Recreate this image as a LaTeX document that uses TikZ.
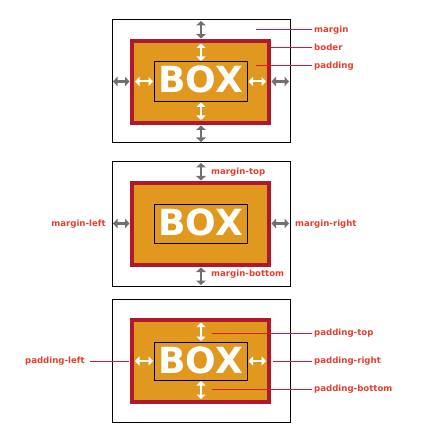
\documentclass[tikz,border=0pt]{standalone}
\usepackage{fontspec}
\newfontfamily\dejavu{DejaVu Sans}
\usetikzlibrary{arrows.meta}
\definecolor{boxred}{HTML}{AE1A2C}
\definecolor{boxorange}{HTML}{E1981F}
\definecolor{arrgrey}{HTML}{707070}
\definecolor{lblred}{HTML}{E4402E}
\definecolor{lnred}{HTML}{E0162E}
\tikzset{
  outerbox/.style={draw=black, line width=1pt},
  borderbox/.style={draw=boxred, fill=boxorange, line width=4pt},
  innerbox/.style={draw=black, line width=1pt},
  boxtext/.style={text=white, font=\dejavu\bfseries\fontsize{36}{36}\selectfont, inner sep=0pt, text height=26pt, text depth=0pt},
  greyarr/.style={draw=arrgrey, line width=2.6pt, {Triangle[length=4.5pt,width=9.5pt]}-{Triangle[length=4.5pt,width=9.5pt]}},
  whitearr/.style={draw=white, line width=2pt, {Triangle[length=4.5pt,width=9pt]}-{Triangle[length=4.5pt,width=9pt]}},
  lbl/.style={text=lblred, font=\dejavu\bfseries\fontsize{8.6}{10}\selectfont, inner sep=0pt, text height=4.8pt, text depth=0pt},
  lead/.style={draw=lnred, line width=1pt},
}
\begin{document}
\begin{tikzpicture}[x=1pt,y=-1pt]
\useasboundingbox (0,0) rectangle (426,438);
% ---------- Panel 1 ----------
\begin{scope}[shift={(0,20)}]
  \draw[outerbox] (112,0) rectangle (290,123);
  \draw[borderbox] (132,21) rectangle (269,103);
  \draw[innerbox] (154,42) rectangle (247.5,81.5);
  \node[boxtext] (box1) at (200.5,60) {BOX};
  \coordinate (a1t1) at (201,1);   \coordinate (a1t2) at (201,18.5);
  \coordinate (a1b1) at (201,105.5); \coordinate (a1b2) at (201,122);
  \coordinate (a1l1) at (113,61.5); \coordinate (a1l2) at (129.5,61.5);
  \coordinate (a1r1) at (271.5,61.5); \coordinate (a1r2) at (289,61.5);
  \draw[greyarr] (a1t1) -- (a1t2);
  \draw[greyarr] (a1b1) -- (a1b2);
  \draw[greyarr] (a1l1) -- (a1l2);
  \draw[greyarr] (a1r1) -- (a1r2);
  \coordinate (w1t1) at (201,23.5); \coordinate (w1t2) at (201,41);
  \coordinate (w1b1) at (201,82.5); \coordinate (w1b2) at (201,100);
  \coordinate (w1l1) at (135,61.5); \coordinate (w1l2) at (153,61.5);
  \coordinate (w1r1) at (248.5,61.5); \coordinate (w1r2) at (266,61.5);
  \draw[whitearr] (w1t1) -- (w1t2);
  \draw[whitearr] (w1b1) -- (w1b2);
  \draw[whitearr] (w1l1) -- (w1l2);
  \draw[whitearr] (w1r1) -- (w1r2);
  \node[lbl, anchor=west] (lmargin) at (314,10) {margin};
  \node[lbl, anchor=west] (lboder) at (314,28) {boder};
  \node[lbl, anchor=west] (lpadding) at (314,46) {padding};
  \coordinate (s1) at (256,10);
  \coordinate (s2) at (271,28);
  \coordinate (s3) at (256,46);
  \draw[lead] (s1) -- ([xshift=-2pt]lmargin.west);
  \draw[lead] (s2) -- ([xshift=-2pt]lboder.west);
  \draw[lead] (s3) -- ([xshift=-2pt]lpadding.west);
\end{scope}
% ---------- Panel 2 ----------
\begin{scope}[shift={(0,162)}]
  \draw[outerbox] (112,0) rectangle (290,124);
  \draw[borderbox] (132,21) rectangle (269,103);
  \draw[innerbox] (154,42) rectangle (247.5,81.5);
  \node[boxtext] (box2) at (200.5,60) {BOX};
  \coordinate (a2t1) at (201,1);   \coordinate (a2t2) at (201,18.5);
  \coordinate (a2b1) at (201,105.5); \coordinate (a2b2) at (201,123);
  \coordinate (a2l1) at (113,61.5); \coordinate (a2l2) at (129.5,61.5);
  \coordinate (a2r1) at (271.5,61.5); \coordinate (a2r2) at (289,61.5);
  \draw[greyarr] (a2t1) -- (a2t2);
  \draw[greyarr] (a2b1) -- (a2b2);
  \draw[greyarr] (a2l1) -- (a2l2);
  \draw[greyarr] (a2r1) -- (a2r2);
  \node[lbl, anchor=west] (lmt) at (211,10) {margin-top};
  \node[lbl, anchor=west] (lmb) at (211,112) {margin-bottom};
  \node[lbl, anchor=east] (lml) at (106,62) {margin-left};
  \node[lbl, anchor=west] (lmr) at (295,62) {margin-right};
\end{scope}
% ---------- Panel 3 ----------
\begin{scope}[shift={(0,299)}]
  \draw[outerbox] (112,0) rectangle (290,123);
  \draw[borderbox] (132,21) rectangle (269,103);
  \draw[innerbox] (154,43) rectangle (247.5,81);
  \node[boxtext] (box3) at (200.5,61) {BOX};
  \coordinate (w3t1) at (201,23.5); \coordinate (w3t2) at (201,42);
  \coordinate (w3b1) at (201,82); \coordinate (w3b2) at (201,100);
  \coordinate (w3l1) at (135,62); \coordinate (w3l2) at (153,62);
  \coordinate (w3r1) at (248.5,62); \coordinate (w3r2) at (266,62);
  \draw[whitearr] (w3t1) -- (w3t2);
  \draw[whitearr] (w3b1) -- (w3b2);
  \draw[whitearr] (w3l1) -- (w3l2);
  \draw[whitearr] (w3r1) -- (w3r2);
  \node[lbl, anchor=west] (lpt) at (314,34) {padding-top};
  \node[lbl, anchor=west] (lpr) at (314,62) {padding-right};
  \node[lbl, anchor=west] (lpb) at (314,90) {padding-bottom};
  \node[lbl, anchor=east] (lpl) at (85,62) {padding-left};
  \coordinate (p1) at (212,34);
  \coordinate (p2) at (273,62);
  \coordinate (p3) at (212,90);
  \coordinate (p4) at (129,62);
  \draw[lead] (p1) -- ([xshift=-2pt]lpt.west);
  \draw[lead] (p2) -- ([xshift=-2pt]lpr.west);
  \draw[lead] (p3) -- ([xshift=-2pt]lpb.west);
  \draw[lead] ([xshift=5pt]lpl.east) -- (p4);
\end{scope}
\end{tikzpicture}
\end{document}
